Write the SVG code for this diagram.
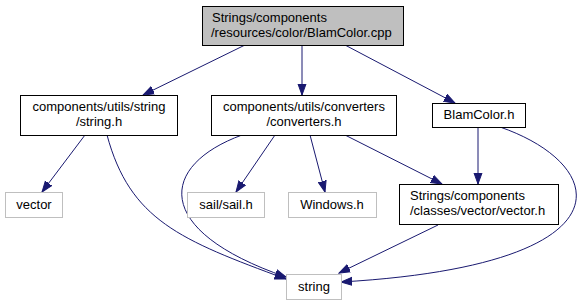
<svg xmlns="http://www.w3.org/2000/svg" width="584" height="305" viewBox="0 0 584 305">
<style>
.n rect{fill:#fff;stroke:#000;stroke-width:1}
.ext rect{fill:#fff;stroke:#bfbfbf;stroke-width:1}
.root rect{fill:#bfbfbf;stroke:#000}
text{font-family:"Liberation Sans",Arial,sans-serif;font-size:13px;fill:#000}
.c{text-anchor:middle}
#edges path{fill:none;stroke:#191970;stroke-width:1}
</style>
<defs>
<marker id="a" viewBox="0 0 12 10" refX="11" refY="5" markerWidth="12" markerHeight="10" markerUnits="userSpaceOnUse" orient="auto">
<path d="M0,1 L11,5 L0,9 z" fill="#191970" stroke="#191970"/>
</marker>
</defs>
<g id="edges">
<path d="M245,45 L143,95" marker-end="url(#a)"/>
<path d="M302,45 L302,95" marker-end="url(#a)"/>
<path d="M345,45 L455,103" marker-end="url(#a)"/>
<path d="M85,135 L42,192" marker-end="url(#a)"/>
<path d="M107,135 C130,220 180,240 286,279" marker-end="url(#a)"/>
<path d="M242,135 C160,165 150,230 286,277" marker-end="url(#a)"/>
<path d="M275,135 L236,192" marker-end="url(#a)"/>
<path d="M310,135 L325,192" marker-end="url(#a)"/>
<path d="M345,135 L442,184" marker-end="url(#a)"/>
<path d="M478,127 L478,184" marker-end="url(#a)"/>
<path d="M500,127 C610,165 635,265 341,282" marker-end="url(#a)"/>
<path d="M438,225 L339,273" marker-end="url(#a)"/>
</g>
<g id="root" class="root"><rect x="202.5" y="6.5" width="201" height="39"/><text x="212" y="22">Strings/components</text><text x="211" y="37">/resources/color/BlamColor.cpp</text></g>
<g id="stringh" class="n"><rect x="20.5" y="95.5" width="157" height="40"/><text class="c" x="99" y="111">components/utils/string</text><text class="c" x="99" y="126">/string.h</text></g>
<g id="converters" class="n"><rect x="211.5" y="95.5" width="185" height="40"/><text class="c" x="304" y="111">components/utils/converters</text><text class="c" x="304" y="126">/converters.h</text></g>
<g id="blamcolor" class="n"><rect x="432.5" y="103.5" width="93" height="24"/><text class="c" x="479" y="119">BlamColor.h</text></g>
<g id="vector" class="ext"><rect x="5.5" y="192.5" width="57" height="25"/><text class="c" x="34" y="209">vector</text></g>
<g id="sail" class="ext"><rect x="187.5" y="192.5" width="77" height="25"/><text class="c" x="226" y="209">sail/sail.h</text></g>
<g id="windows" class="ext"><rect x="288.5" y="192.5" width="88" height="25"/><text class="c" x="332" y="209">Windows.h</text></g>
<g id="vectorh" class="n"><rect x="399.5" y="184.5" width="159" height="40"/><text x="410" y="200">Strings/components</text><text x="410" y="215">/classes/vector/vector.h</text></g>
<g id="string" class="ext"><rect x="286.5" y="274.5" width="55" height="25"/><text class="c" x="314" y="291">string</text></g>
</svg>
